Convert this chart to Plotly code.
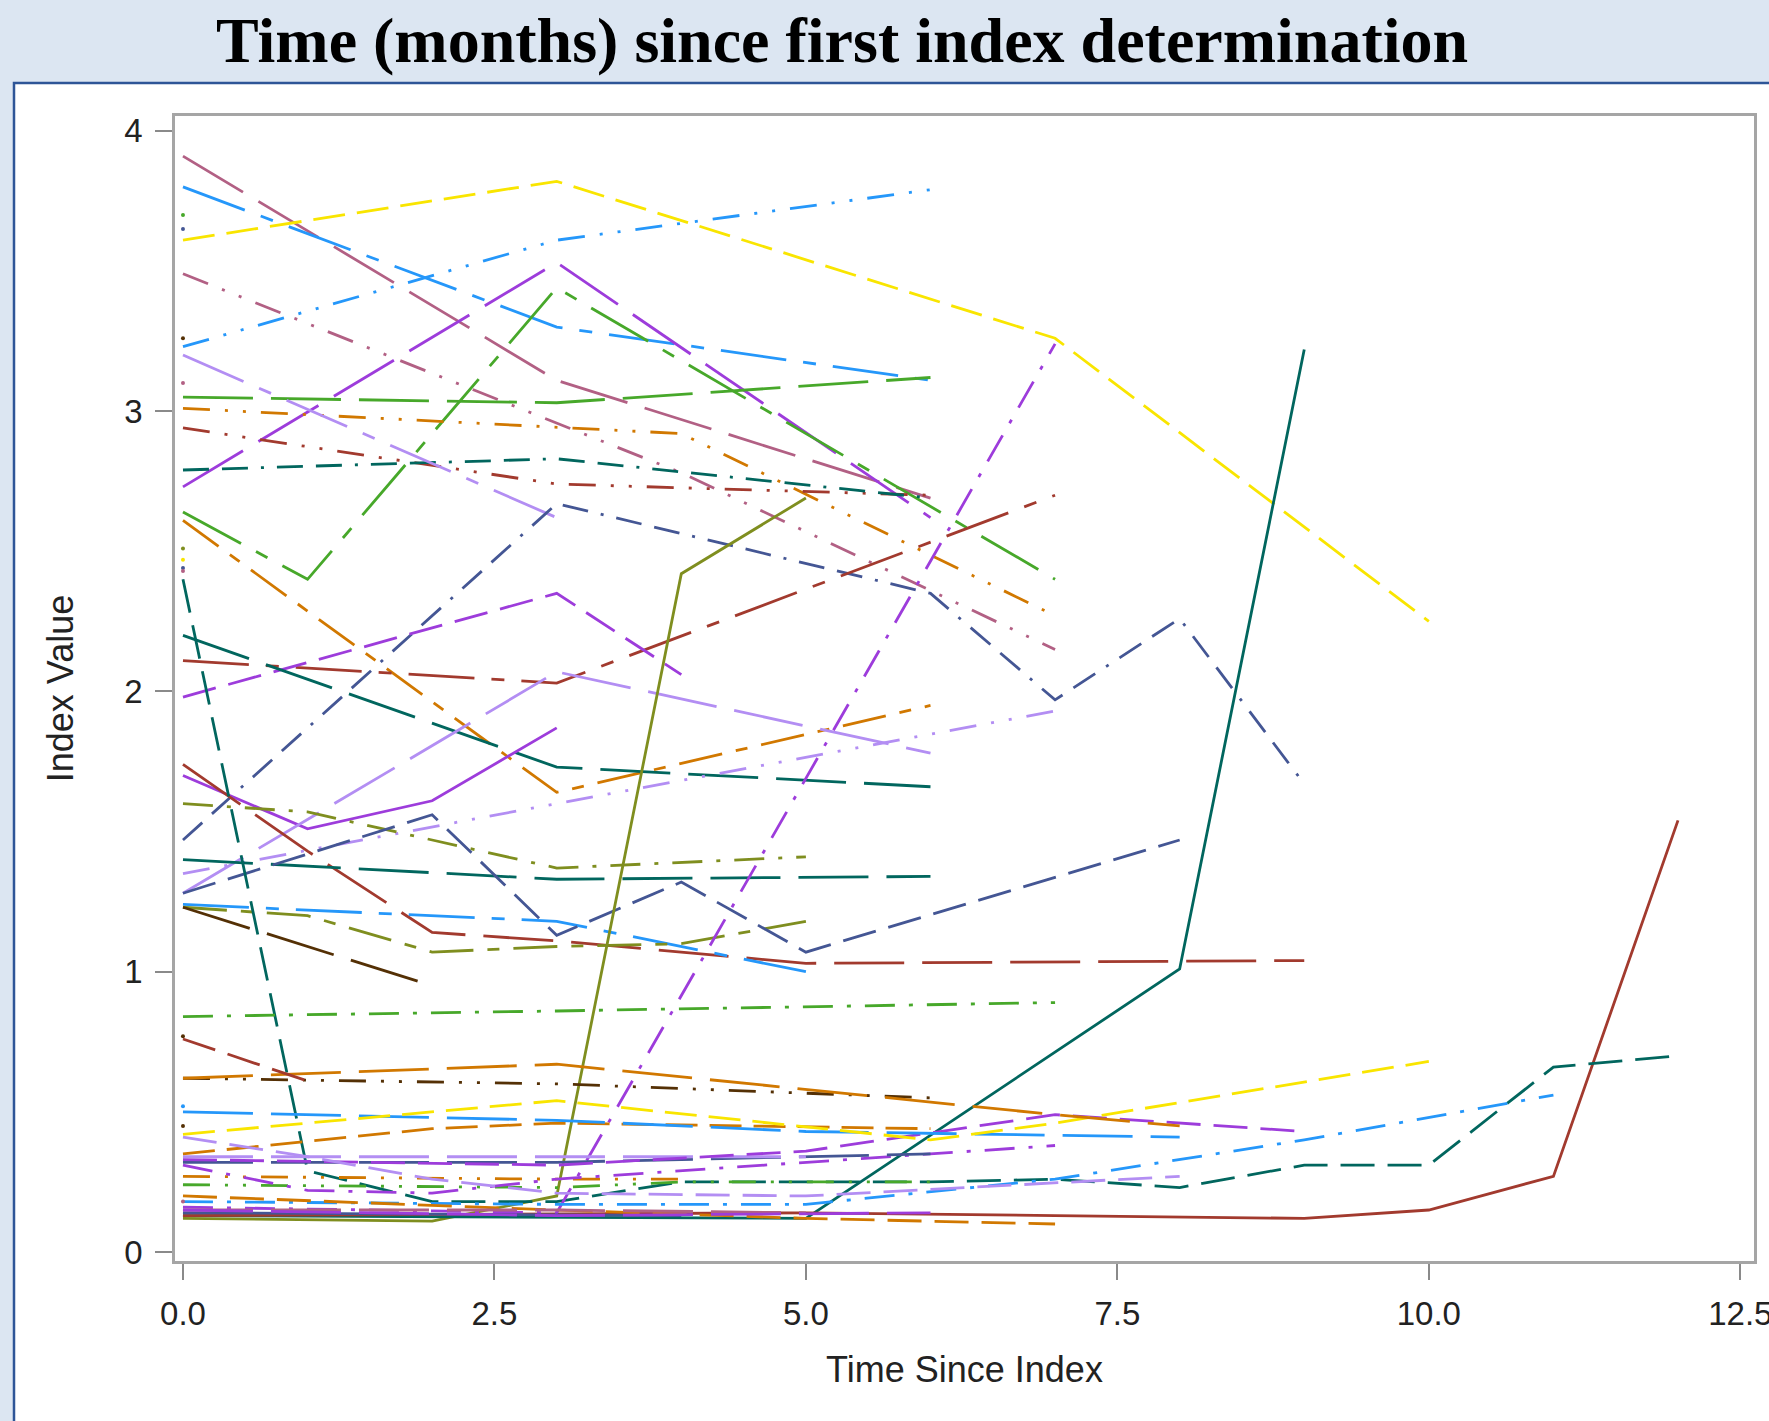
import plotly.graph_objects as go

# ---------------- data: months since index and index values per subject -------------
s01_m = [0, 3, 6];              s01_v = [3.91, 3.11, 2.69]
s02_m = [0, 3, 6];              s02_v = [3.80, 3.30, 3.11]
s03_m = [0, 3, 6];              s03_v = [3.23, 3.61, 3.79]
s04_m = [0, 3, 7, 10];          s04_v = [3.61, 3.82, 3.26, 2.25]
s05_m = [0, 4, 7];              s05_v = [3.49, 2.78, 2.15]
s06_m = [0, 3, 6];              s06_v = [2.73, 3.53, 2.62]
s07_m = [0, 1, 3, 7];           s07_v = [2.64, 2.40, 3.44, 2.40]
s08_m = [0, 3, 6];              s08_v = [3.05, 3.03, 3.12]
s09_m = [0, 4, 7];              s09_v = [3.01, 2.92, 2.27]
s10_m = [0, 3, 6];              s10_v = [2.94, 2.74, 2.70]
s11_m = [0, 3, 6];              s11_v = [2.79, 2.83, 2.69]
s12_m = [0, 3];                 s12_v = [3.20, 2.62]
s13_m = [0, 3, 6, 7, 8, 9];     s13_v = [1.47, 2.67, 2.35, 1.97, 2.26, 1.67]
s14_m = [0, 3, 6];              s14_v = [2.61, 1.64, 1.95]
s15_m = [0, 3, 7];              s15_v = [2.11, 2.03, 2.70]
s16_m = [0, 3, 4];              s16_v = [1.98, 2.35, 2.06]
s17_m = [0, 3, 6];              s17_v = [2.20, 1.73, 1.66]
s18_m = [0, 1, 2, 3];           s18_v = [1.70, 1.51, 1.61, 1.87]
s19_m = [0, 3, 6];              s19_v = [1.28, 2.07, 1.78]
s20_m = [0, 3, 7];              s20_v = [1.35, 1.60, 1.93]
s21_m = [0, 1, 2, 3, 5, 9];     s21_v = [1.74, 1.43, 1.14, 1.11, 1.03, 1.04]
s22_m = [0, 3, 5];              s22_v = [1.24, 1.18, 1.00]
s23_m = [0, 1, 2, 3, 4, 5];     s23_v = [1.23, 1.20, 1.07, 1.09, 1.10, 1.18]
s24_m = [0, 2];                 s24_v = [1.23, 0.95]
s25_m = [0, 3, 6];              s25_v = [1.40, 1.33, 1.34]
s26_m = [0, 1, 2, 3, 5];        s26_v = [1.60, 1.57, 1.47, 1.37, 1.41]
s27_m = [0, 2, 3, 4, 5, 8];     s27_v = [1.28, 1.56, 1.13, 1.32, 1.07, 1.47]
s28_m = [0, 2, 3, 4, 5];        s28_v = [0.12, 0.11, 0.20, 2.42, 2.69]
s29_m = [0, 5, 8, 9];           s29_v = [0.13, 0.12, 1.01, 3.22]
s30_m = [0, 5, 7, 9, 10, 11, 12]; s30_v = [0.13, 0.14, 0.13, 0.12, 0.15, 0.27, 1.54]
s31_m = [0, 1, 2, 3, 4, 6, 7, 8, 9, 10, 11, 12]
s31_v = [2.40, 0.29, 0.18, 0.18, 0.25, 0.25, 0.26, 0.23, 0.31, 0.31, 0.66, 0.70]
s32_m = [0, 3, 7];              s32_v = [0.16, 0.14, 3.24]
s33_m = [0, 3, 5, 7, 9, 11];    s33_v = [0.18, 0.17, 0.17, 0.26, 0.40, 0.56]
s34_m = [0, 3, 5, 7];           s34_v = [0.20, 0.15, 0.12, 0.10]
s35_m = [0, 3, 4, 6];           s35_v = [0.24, 0.23, 0.25, 0.25]
s36_m = [0, 3, 4];              s36_v = [0.27, 0.26, 0.26]
s37_m = [0, 1, 2, 3, 7];        s37_v = [0.31, 0.22, 0.21, 0.26, 0.38]
s38_m = [0, 3, 6];              s38_v = [0.32, 0.32, 0.35]
s39_m = [0, 3, 5];              s39_v = [0.34, 0.34, 0.34]
s40_m = [0, 3, 5, 7, 9];        s40_v = [0.33, 0.31, 0.36, 0.49, 0.43]
s41_m = [0, 2, 3, 6];           s41_v = [0.35, 0.44, 0.46, 0.44]
s42_m = [0, 1, 2, 3, 5, 8];     s42_v = [0.41, 0.34, 0.26, 0.21, 0.20, 0.27]
s43_m = [0, 3, 5, 8];           s43_v = [0.50, 0.47, 0.43, 0.41]
s44_m = [0, 3, 6, 7, 10];       s44_v = [0.42, 0.54, 0.40, 0.46, 0.68]
s45_m = [0, 3, 6];              s45_v = [0.62, 0.60, 0.55]
s46_m = [0, 3, 7, 8];           s46_v = [0.62, 0.67, 0.49, 0.45]
s47_m = [0, 1];                 s47_v = [0.76, 0.61]
s48_m = [0, 3, 7];              s48_v = [0.84, 0.86, 0.89]
s49_m = [0, 3, 5];              s49_v = [0.15, 0.15, 0.14]
s50_m = [0, 4];                 s50_v = [0.14, 0.13]
s51_m = [0, 3, 6];              s51_v = [0.15, 0.13, 0.14]

# subjects with a single determination (month 0 only)
single_m = [0, 0, 0, 0, 0, 0, 0, 0, 0, 0, 0, 0]
single_v = [3.70, 3.65, 3.26, 3.10, 2.51, 2.47, 2.44, 2.43, 0.77, 0.52, 0.45, 0.18]

x_tickvals = [0, 2.5, 5, 7.5, 10, 12.5]
x_ticktext = ["0.0", "2.5", "5.0", "7.5", "10.0", "12.5"]
y_tickvals = [0, 1, 2, 3, 4]

# ---------------- styles -------------
COL = {
    "darkblue": "#445694", "red": "#A23A2E", "teal": "#01665E", "brown": "#543005",
    "purple": "#9D3CDB", "olive": "#7F8E1F", "blue": "#2597FA", "mauve": "#B26084",
    "orange": "#D17800", "green": "#47A82A", "lavender": "#B38EF3", "yellow": "#F9E500",
}
DASH = {
    "solid": "solid",
    "long": "70px,18px",
    "longshort": "66px,17px,13px,17px",
    "dash": "32px,12px",
    "med": "34px,13px",
    "ddd": "27px,15px,3px,15px,3px,15px",
    "dddot": "26px,13px,26px,13px,3px,13px",
    "dashdot": "30px,14px,4px,14px",
    "medshort": "44px,14px,12px,14px",
}

SERIES = [
    (s01_m, s01_v, "mauve", "long"), (s02_m, s02_v, "blue", "longshort"),
    (s03_m, s03_v, "blue", "ddd"), (s04_m, s04_v, "yellow", "dash"),
    (s05_m, s05_v, "mauve", "ddd"), (s06_m, s06_v, "purple", "long"),
    (s07_m, s07_v, "green", "longshort"), (s08_m, s08_v, "green", "long"),
    (s09_m, s09_v, "orange", "ddd"), (s10_m, s10_v, "red", "ddd"),
    (s11_m, s11_v, "teal", "dddot"), (s12_m, s12_v, "lavender", "longshort"),
    (s13_m, s13_v, "darkblue", "dddot"), (s14_m, s14_v, "orange", "medshort"),
    (s15_m, s15_v, "red", "longshort"), (s16_m, s16_v, "purple", "med"),
    (s17_m, s17_v, "teal", "long"), (s18_m, s18_v, "purple", "solid"),
    (s19_m, s19_v, "lavender", "long"), (s20_m, s20_v, "lavender", "ddd"),
    (s21_m, s21_v, "red", "long"), (s22_m, s22_v, "blue", "longshort"),
    (s23_m, s23_v, "olive", "medshort"), (s24_m, s24_v, "brown", "long"),
    (s25_m, s25_v, "teal", "long"), (s26_m, s26_v, "olive", "dashdot"),
    (s27_m, s27_v, "darkblue", "med"), (s28_m, s28_v, "olive", "solid"),
    (s29_m, s29_v, "teal", "solid"), (s30_m, s30_v, "red", "solid"),
    (s31_m, s31_v, "teal", "med"), (s32_m, s32_v, "purple", "dashdot"),
    (s33_m, s33_v, "blue", "dashdot"), (s34_m, s34_v, "orange", "med"),
    (s35_m, s35_v, "green", "ddd"), (s36_m, s36_v, "orange", "ddd"),
    (s37_m, s37_v, "purple", "dashdot"), (s38_m, s38_v, "darkblue", "long"),
    (s39_m, s39_v, "lavender", "long"), (s40_m, s40_v, "purple", "med"),
    (s41_m, s41_v, "orange", "dash"), (s42_m, s42_v, "lavender", "med"),
    (s43_m, s43_v, "blue", "long"), (s44_m, s44_v, "yellow", "dash"),
    (s45_m, s45_v, "brown", "ddd"), (s46_m, s46_v, "orange", "long"),
    (s47_m, s47_v, "red", "med"), (s48_m, s48_v, "green", "dashdot"),
    (s49_m, s49_v, "mauve", "long"), (s50_m, s50_v, "darkblue", "solid"),
    (s51_m, s51_v, "purple", "long"),
]
SINGLE_COLORS = ["green", "darkblue", "brown", "mauve", "olive", "yellow",
                 "darkblue", "mauve", "brown", "blue", "brown", "mauve"]

fig = go.Figure()
for m, v, c, d in SERIES:
    fig.add_trace(go.Scatter(x=m, y=v, mode="lines",
                             line=dict(color=COL[c], width=2.8, dash=DASH[d]),
                             showlegend=False, hoverinfo="x+y"))
fig.add_trace(go.Scatter(x=single_m, y=single_v, mode="markers",
                         marker=dict(size=4, color=[COL[c] for c in SINGLE_COLORS]),
                         showlegend=False))

# pixel geometry helpers (plot area l=175..1754, t=116..1261)
L, R, T, B = 175, 1754, 116, 1261
def px(X):
    return (X - L) / (R - L)
def py(Y):
    return (B - Y) / (B - T)

AX_FONT = dict(family="Liberation Sans, Arial, sans-serif", size=33, color="#222222")
TITLE_FONT = dict(family="Liberation Sans, Arial, sans-serif", size=36, color="#222222")

fig.update_layout(
    width=1769, height=1421, autosize=False,
    margin=dict(l=L, r=1769 - R, t=T, b=1421 - B, autoexpand=False),
    paper_bgcolor="#dce6f2", plot_bgcolor="white",
    font=AX_FONT,
    xaxis=dict(range=[-0.064, 12.61], tickvals=x_tickvals, ticktext=x_ticktext,
               ticks="outside", ticklen=16, tickwidth=2, tickcolor="#8a8a8a",
               showline=True, mirror=True, linecolor="#a5a5a5", linewidth=2.5,
               showgrid=False, zeroline=False, tickfont=AX_FONT, automargin=False,
               ticklabelstandoff=6, ticklabeloverflow="allow",
               title=dict(text="Time Since Index", font=TITLE_FONT, standoff=26)),
    yaxis=dict(range=[-0.032, 4.053], tickvals=y_tickvals,
               ticks="outside", ticklen=17, tickwidth=2, tickcolor="#8a8a8a",
               showline=True, mirror=True, linecolor="#a5a5a5", linewidth=2.5,
               showgrid=False, zeroline=False, tickfont=AX_FONT, automargin=False,
               ticklabelstandoff=6,
               title=dict(text="Index Value", font=TITLE_FONT, standoff=40)),
    shapes=[dict(type="rect", xref="paper", yref="paper", layer="below",
                 x0=px(14), x1=px(1800), y0=py(1460), y1=py(83),
                 fillcolor="white", line=dict(color="#2e5597", width=2.5))],
    annotations=[dict(text="Time (months) since first index determination",
                      xref="paper", yref="paper", x=px(842), y=py(41),
                      xanchor="center", yanchor="middle", showarrow=False,
                      font=dict(family="Liberation Serif, Times New Roman, serif",
                                size=64, color="black", weight="bold"))],
)

fig.write_html("out.html",
               config={"responsive": False, "displayModeBar": False},
               post_script="document.body.style.margin='0';"
                           "document.body.style.overflow='hidden';"
                           "document.body.style.background='#dce6f2';")
